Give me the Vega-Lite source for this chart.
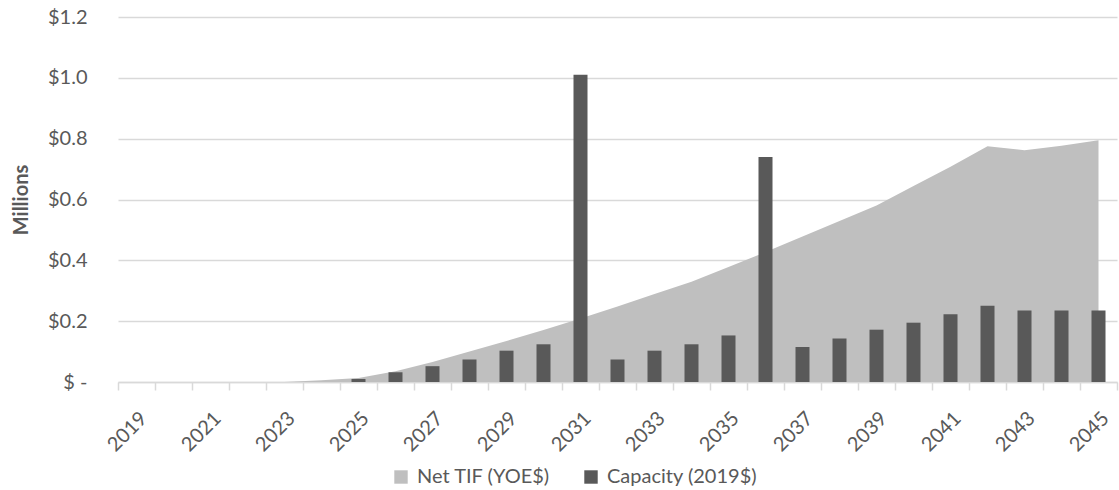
{
  "$schema": "https://vega.github.io/schema/vega-lite/v6.json",
  "width": 999,
  "height": 365,
  "autosize": {"type": "none"},
  "padding": {"left": 118, "top": 17, "right": 2, "bottom": 108},
  "background": "white",
  "config": {
    "view": {"stroke": null},
    "font": "Lato"
  },
  "data": {
    "values": [
      {"year": "2019", "net": 0, "cap": 0},
      {"year": "2020", "net": 0, "cap": 0},
      {"year": "2021", "net": 0, "cap": 0},
      {"year": "2022", "net": 0, "cap": 0},
      {"year": "2023", "net": 0, "cap": 0},
      {"year": "2024", "net": 0.006, "cap": 0},
      {"year": "2025", "net": 0.013, "cap": 0.01},
      {"year": "2026", "net": 0.035, "cap": 0.032},
      {"year": "2027", "net": 0.066, "cap": 0.052},
      {"year": "2028", "net": 0.1, "cap": 0.074},
      {"year": "2029", "net": 0.135, "cap": 0.103},
      {"year": "2030", "net": 0.171, "cap": 0.124},
      {"year": "2031", "net": 0.209, "cap": 1.01},
      {"year": "2032", "net": 0.248, "cap": 0.074},
      {"year": "2033", "net": 0.289, "cap": 0.103},
      {"year": "2034", "net": 0.33, "cap": 0.124},
      {"year": "2035", "net": 0.378, "cap": 0.153},
      {"year": "2036", "net": 0.427, "cap": 0.74},
      {"year": "2037", "net": 0.478, "cap": 0.115},
      {"year": "2038", "net": 0.529, "cap": 0.143},
      {"year": "2039", "net": 0.58, "cap": 0.172},
      {"year": "2040", "net": 0.644, "cap": 0.195},
      {"year": "2041", "net": 0.708, "cap": 0.223},
      {"year": "2042", "net": 0.775, "cap": 0.251},
      {"year": "2043", "net": 0.762, "cap": 0.235},
      {"year": "2044", "net": 0.777, "cap": 0.235},
      {"year": "2045", "net": 0.795, "cap": 0.235}
    ]
  },
  "layer": [
    {
      "mark": {"type": "area", "opacity": 1, "interpolate": "linear"},
      "encoding": {
        "x": {
          "field": "year", "type": "ordinal", "bandPosition": 0.5,
          "scale": {"paddingInner": 0, "paddingOuter": 0},
          "axis": {
            "title": null, "labelAngle": -45,
            "labelExpr": "(+datum.value) % 2 == 1 ? datum.label : ''",
            "labelOverlap": false, "tickBand": "extent", "ticks": true, "tickSize": 8,
            "tickColor": "#d9d9d9", "tickWidth": 1.5, "domainColor": "#d9d9d9", "domainWidth": 1.5,
            "labelColor": "#595959", "labelFont": "Lato", "labelFontSize": 20, "labelPadding": 18, "grid": false
          }
        },
        "y": {
          "field": "net", "type": "quantitative",
          "scale": {"domain": [0, 1.2], "nice": false},
          "axis": {
            "title": "Millions", "values": [0, 0.2, 0.4, 0.6, 0.8, 1.0, 1.2],
            "labelExpr": "datum.value == 0 ? '$ -' : '$' + format(datum.value, '.1f')",
            "domain": false, "ticks": false, "gridColor": "#d9d9d9", "gridWidth": 1.5,
            "labelPadding": 31, "labelFont": "Lato", "labelFontSize": 20, "labelColor": "#595959",
            "titleFont": "Lato", "titleFontSize": 20, "titleFontWeight": "bold", "titleColor": "#595959", "titlePadding": 16
          }
        },
        "color": {
          "datum": "Net TIF (YOE$)",
          "scale": {"domain": ["Net TIF (YOE$)", "Capacity (2019$)"], "range": ["#bfbfbf", "#595959"]},
          "legend": {
            "orient": "none", "legendX": 273, "legendY": 450, "direction": "horizontal",
            "title": null, "symbolType": "square", "symbolSize": 180, "symbolStrokeWidth": 0, "symbolOpacity": 1,
            "labelFont": "Lato", "labelFontSize": 20, "labelColor": "#595959", "columnPadding": 30, "labelOffset": 6
          }
        }
      }
    },
    {
      "mark": {"type": "bar", "size": 14},
      "encoding": {
        "x": {
          "field": "year", "type": "ordinal",
          "scale": {"paddingInner": 0, "paddingOuter": 0},
          "axis": {
            "title": null, "labelAngle": -45,
            "labelExpr": "(+datum.value) % 2 == 1 ? datum.label : ''",
            "labelOverlap": false, "tickBand": "extent", "ticks": true, "tickSize": 8,
            "tickColor": "#d9d9d9", "tickWidth": 1.5, "domainColor": "#d9d9d9", "domainWidth": 1.5,
            "labelColor": "#595959", "labelFont": "Lato", "labelFontSize": 20, "labelPadding": 18, "grid": false
          }
        },
        "y": {"field": "cap", "type": "quantitative"},
        "color": {"datum": "Capacity (2019$)"}
      }
    }
  ]
}
